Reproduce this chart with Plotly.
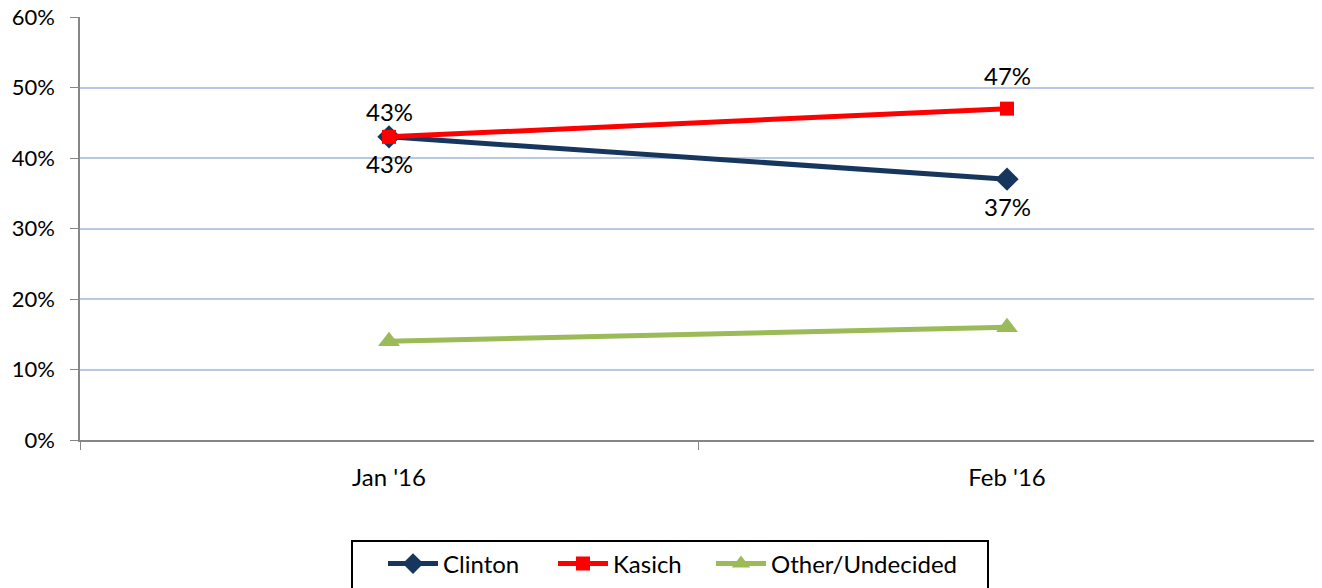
import plotly.graph_objects as go

months = ["Jan '16", "Feb '16"]
clinton = [0.43, 0.37]
kasich = [0.43, 0.47]
other = [0.14, 0.16]
y_ticks = [0, 0.1, 0.2, 0.3, 0.4, 0.5, 0.6]

FONT = "Lato, Carlito, 'Liberation Sans', sans-serif"
FS = 24

# page offset from the browser's default body margin
OFF = 8
# plot area geometry in page px
L, R, T, B = 80, 1316, 17, 440
W, H = 1322, 588
def px_x(p):
    return (p - L) / (R - L)
def px_y(p):
    return (B - p) / (B - T)

IW = 50

fig = go.Figure()
fig.add_trace(go.Scatter(
    x=months, y=clinton, name="Clinton", mode="lines+markers",
    line=dict(color="#17365d", width=5),
    marker=dict(symbol="diamond", size=18, color="#17365d"),
    legend="legend",
))
fig.add_trace(go.Scatter(
    x=months, y=kasich, name="Kasich", mode="lines+markers",
    line=dict(color="#ff0000", width=5),
    marker=dict(symbol="square", size=14, color="#ff0000"),
    legend="legend2",
))
fig.add_trace(go.Scatter(
    x=months, y=other, name="Other/Undecided", mode="lines+markers",
    line=dict(color="#9bbb59", width=5),
    marker=dict(symbol="triangle-up", size=19, color="#9bbb59"),
    legend="legend3",
))

annotations = []
for i, m in enumerate(months):
    annotations.append(dict(x=m, y=kasich[i], text=f"{round(kasich[i]*100)}%",
                            showarrow=False, yshift=25 if i == 0 else 33,
                            font=dict(family=FONT, size=FS, color="black")))
    annotations.append(dict(x=m, y=clinton[i], text=f"{round(clinton[i]*100)}%",
                            showarrow=False, yshift=-27,
                            font=dict(family=FONT, size=FS, color="black")))

def leg(text_start_px):
    return dict(orientation="h", x=px_x(text_start_px - (IW + 11)), xanchor="left",
                y=px_y(564), yanchor="middle", borderwidth=0,
                bgcolor="rgba(0,0,0,0)", font=dict(size=FS), itemwidth=IW)

fig.update_layout(
    width=W, height=H,
    margin=dict(l=L - OFF, r=W + OFF - R, t=T - OFF, b=H + OFF - B, autoexpand=False),
    paper_bgcolor="white", plot_bgcolor="white",
    font=dict(family=FONT, size=FS, color="black"),
    showlegend=True,
    legend=leg(444), legend2=leg(614), legend3=leg(772),
    annotations=annotations,
    shapes=[dict(type="rect", xref="paper", yref="paper",
                 x0=px_x(352), x1=px_x(988), y0=px_y(541), y1=px_y(620),
                 line=dict(color="black", width=2), fillcolor="rgba(0,0,0,0)")],
    xaxis=dict(type="category", range=[-0.5, 1.5], tickson="boundaries",
               ticks="outside", ticklen=8, tickcolor="#868686",
               showline=True, linecolor="#868686", linewidth=1.5,
               showgrid=False, tickfont=dict(size=FS), ticklabelstandoff=15),
    yaxis=dict(range=[0, 0.6], tickvals=y_ticks, tickformat=".0%",
               ticks="outside", ticklen=8, tickcolor="#868686",
               showline=True, linecolor="#868686", linewidth=1.5,
               showgrid=True, gridcolor="#b9c9e5", gridwidth=1.5,
               zeroline=False, tickfont=dict(size=22), ticklabelstandoff=11,
               ticklabeloverflow="allow"),
)

fig.write_html("out.html")
